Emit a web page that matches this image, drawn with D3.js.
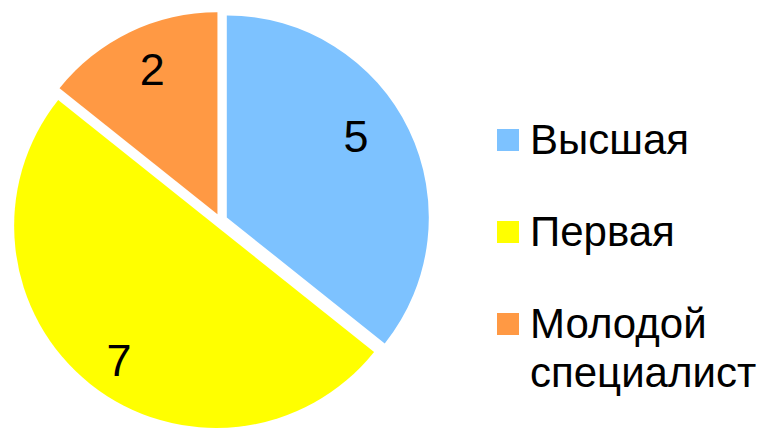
<!DOCTYPE html>
<html><head><meta charset="utf-8">
<script src="https://cdn.jsdelivr.net/npm/d3@7"></script>
<style>html,body{margin:0;padding:0;background:#fff;}svg{display:block;}</style>
</head><body>
<script>
const categories = ["Высшая", "Первая", "Молодой специалист"];
const values = [5, 7, 2];
const colors = ["#7DC2FF", "#FFFF00", "#FF9944"];
const legendLines = [["Высшая"], ["Первая"], ["Молодой", "специалист"]];

const W = 763, H = 428;
const cx = 220.5, cy = 220.5, R = 202, explode = 7;
const svg = d3.select("body").append("svg").attr("width", W).attr("height", H);
const pie = d3.pie().sort(null).value(d => d)(values);
const arc = d3.arc().innerRadius(0).outerRadius(R);
const g = svg.append("g").attr("transform", `translate(${cx},${cy})`);
const labelR = [0.76, 0.83, 0.79];
const labelShift = [[-9, -14], [7.5, 3], [4, -1]];
pie.forEach((p, i) => {
  const mid = (p.startAngle + p.endAngle) / 2;
  const ox = Math.sin(mid) * explode, oy = -Math.cos(mid) * explode;
  const sg = g.append("g").attr("transform", `translate(${ox},${oy})`);
  sg.append("path").attr("d", arc(p)).attr("fill", colors[i]);
  const lr = R * labelR[i];
  sg.append("text")
    .attr("x", Math.sin(mid) * lr + labelShift[i][0]).attr("y", -Math.cos(mid) * lr + labelShift[i][1])
    .attr("text-anchor", "middle").attr("dominant-baseline", "central")
    .attr("font-family", "Liberation Sans, Arial, sans-serif").attr("font-size", 45)
    .text(values[i]);
});
const lg = svg.append("g");
categories.forEach((c, i) => {
  const y0 = 129 + i * 92;
  lg.append("rect").attr("x", 497).attr("y", y0).attr("width", 22).attr("height", 22).attr("fill", colors[i]);
  const t = lg.append("text").attr("x", 530).attr("y", y0 + 25)
    .attr("font-family", "Liberation Sans, Arial, sans-serif").attr("font-size", 42).attr("fill", "#000");
  legendLines[i].forEach((l, j) => {
    t.append("tspan").attr("x", 530).attr("dy", j === 0 ? 0 : 49).text(l);
  });
});
</script>
</body></html>
